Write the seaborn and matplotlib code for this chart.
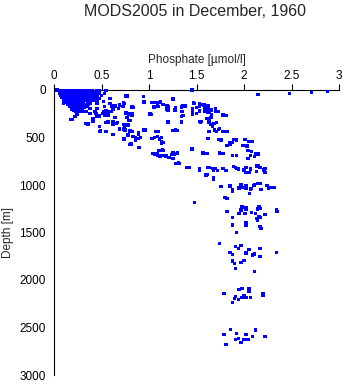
import matplotlib
matplotlib.use("Agg")
import matplotlib.pyplot as plt
import seaborn as sns
import pandas as pd

# Phosphate [umol/l] and depth [m] of each station sample
phosphate = [
    # surface layer, dense
    0.03, 0.06, 0.08, 0.10, 0.12, 0.14, 0.16, 0.18, 0.20, 0.22, 0.24, 0.26, 0.28, 0.30, 0.33, 0.36, 0.40, 0.45, 0.48, 0.55,
    0.06, 0.08, 0.10, 0.12, 0.14, 0.16, 0.18, 0.20, 0.22, 0.24, 0.26, 0.28, 0.30, 0.32, 0.35, 0.38, 0.41, 0.44, 0.48, 0.53,
    0.07, 0.09, 0.11, 0.13, 0.15, 0.17, 0.19, 0.21, 0.23, 0.25, 0.27, 0.29, 0.31, 0.34, 0.37, 0.40, 0.43, 0.46, 0.50,
    0.08, 0.10, 0.12, 0.14, 0.16, 0.18, 0.20, 0.22, 0.24, 0.26, 0.28, 0.30, 0.33, 0.36, 0.39, 0.42, 0.45, 0.48,
    0.10, 0.12, 0.15, 0.17, 0.19, 0.21, 0.23, 0.25, 0.27, 0.29, 0.31, 0.34, 0.38, 0.41, 0.45,
    0.12, 0.16, 0.19, 0.22, 0.24, 0.27, 0.31, 0.38, 0.45, 0.52,
    0.07, 0.09, 0.11, 0.13, 0.15, 0.17, 0.19, 0.21, 0.23, 0.25, 0.27, 0.29, 0.31, 0.33, 0.35, 0.37,
    0.09, 0.12, 0.15, 0.18, 0.21, 0.24, 0.27, 0.30, 0.34, 0.39, 0.43,
    0.14, 0.18, 0.21, 0.23, 0.25, 0.28, 0.30, 0.33, 0.36,
    0.17, 0.20, 0.22, 0.25, 0.27, 0.29, 0.32, 0.35,
    0.19, 0.21, 0.23, 0.26, 0.28, 0.30,
    # upper 500 m
    0.19, 0.22, 0.24, 0.22, 0.31, 0.24, 0.19, 0.31, 0.38, 0.38, 0.45, 0.45, 0.52, 0.48, 0.41, 0.48, 0.53, 0.33, 0.24, 0.10,
    0.59, 0.73, 0.73, 0.76, 0.68, 0.62, 0.62, 0.57, 0.52, 0.53, 0.48, 0.44, 0.41, 0.33, 0.36, 0.41, 0.48, 0.49, 0.57, 0.62,
    0.62, 0.67, 0.69, 0.74, 0.78, 0.80, 0.82, 0.80, 0.62, 0.74, 0.80, 0.86, 0.89, 0.90, 0.18, 0.27, 0.34, 0.38, 0.43, 0.45,
    0.48, 0.51, 0.55, 0.57, 0.60, 0.61, 0.64, 0.66, 0.67, 0.69, 0.73, 0.74, 0.78, 0.83, 0.86, 0.89, 0.96, 0.80, 0.76, 0.74,
    0.64, 0.53, 0.59, 0.69, 0.77, 0.74, 0.73, 0.83, 0.76, 0.79, 0.82, 0.94, 0.94, 1.02, 1.10, 1.12, 1.15, 1.19, 1.19, 1.26,
    1.28, 1.30, 0.55, 0.54, 0.48,
    # mid-depth band
    1.45, 0.94, 0.76, 1.05, 1.12, 1.10, 0.95, 1.25, 1.05, 0.74, 0.72, 0.82, 1.20, 1.28, 1.34, 1.36, 1.47, 1.55, 1.50, 1.53,
    1.46, 1.61, 1.63, 1.66, 1.61, 1.69, 1.73, 1.73, 1.68, 1.54, 1.34, 1.34, 1.20, 1.01, 0.82, 0.76, 0.77, 0.79, 0.77, 0.73,
    0.69, 0.75, 0.82, 0.89, 0.94, 0.91, 0.86, 0.73, 0.81, 0.89, 1.06, 1.10, 1.13, 1.15, 1.28, 1.45, 1.60, 1.06, 1.11, 1.11,
    1.16, 1.28, 1.30, 1.31,
    1.46, 2.15, 2.48, 2.71, 2.88, 1.26, 1.03, 1.06, 1.09, 1.09, 1.20, 1.20, 1.27, 1.34, 1.38, 1.48, 1.53, 1.53, 1.58, 1.62,
    1.50, 1.59, 1.62, 1.66, 1.70, 1.70, 1.59, 1.62, 1.46, 1.46, 1.50, 1.35, 1.36, 1.01, 1.78, 1.81, 1.65, 1.63, 1.63, 1.53,
    1.55, 1.71, 1.20, 1.34, 1.65, 1.67, 1.74, 1.78, 1.82, 1.71, 1.69, 1.63, 1.07, 1.25, 1.03, 1.09, 1.11, 1.13, 1.13, 1.62,
    1.73, 1.89, 1.85, 1.82, 1.99, 2.01, 2.05, 1.46, 1.10, 1.14, 1.04, 1.09, 1.14, 1.21, 1.25, 1.24, 1.28, 1.40, 1.57, 1.74,
    1.88, 2.04, 2.04, 2.07, 2.12, 2.13, 2.17, 2.21, 2.22,
    1.46, 1.61, 1.78, 1.92, 2.11, 2.15, 2.08, 2.03, 1.86, 1.88, 1.76, 1.92, 2.09, 1.25, 1.32, 1.42, 1.53, 1.62, 1.61, 1.68,
    1.72, 1.81, 1.92, 1.94, 2.02, 2.07, 2.06, 2.15, 1.68, 1.09, 1.15, 1.11, 1.06, 1.15, 1.18, 1.29, 1.27, 1.12,
    1.68, 1.60, 1.63, 1.53, 1.67, 1.70, 1.78, 1.89, 1.91, 2.00, 2.02, 2.13, 2.22,
    # 1000-1500 m
    1.76, 1.85, 1.88, 1.97, 1.95, 2.02, 2.02, 2.06, 2.08, 2.11, 2.17, 2.18, 2.24, 2.26, 2.32, 1.48, 1.82, 1.82, 1.98, 1.97,
    1.95, 2.02, 2.01, 2.08, 2.12, 2.14, 2.17, 2.17, 2.22, 2.35, 2.14, 1.88, 1.88, 2.02, 2.18, 2.07, 2.11,
    1.86, 1.88, 1.98, 2.10, 2.15, 2.29, 1.80, 1.98, 2.02, 2.16, 2.34, 2.16, 2.13, 2.02, 2.17,
    # 1500-2000 m
    1.74, 1.92, 1.91, 1.97, 1.94, 2.17, 1.85, 1.88, 2.05, 2.02, 2.02, 2.11, 2.09, 2.17, 2.34, 1.88, 1.90, 1.97, 2.00, 1.91,
    2.11,
    # 2000-2300 m
    1.79, 2.20, 2.20, 1.95, 1.98, 2.05, 2.05, 2.00, 1.91, 1.98, 2.02, 2.07, 1.90, 1.94, 1.88,
    # 2500-2700 m
    1.86, 2.12, 1.79, 1.92, 2.02, 2.09, 2.22, 1.94, 1.91, 2.00, 2.04, 1.97, 1.81,
]
depth = [
    # surface layer, dense
    0, 10, 5, 12, 8, 15, 10, 6, 12, 9, 14, 8, 11, 7, 13, 10, 8, 12, 5, 7,
    30, 35, 28, 33, 38, 30, 36, 32, 29, 34, 37, 31, 35, 30, 33, 36, 35, 30, 35, 35,
    55, 60, 52, 58, 62, 55, 60, 57, 54, 61, 58, 56, 60, 55, 59, 62, 57, 60, 58,
    80, 85, 78, 88, 82, 86, 80, 84, 88, 82, 86, 80, 85, 88, 82, 86, 88, 88,
    105, 110, 102, 108, 112, 104, 110, 106, 112, 108, 104, 110, 106, 112, 108,
    125, 130, 122, 128, 132, 126, 130, 128, 125, 123,
    20, 22, 18, 24, 20, 45, 22, 44, 20, 46, 22, 45, 20, 46, 22, 45,
    70, 72, 68, 95, 70, 96, 72, 95, 70, 96, 72,
    150, 155, 148, 160, 152, 158, 150, 156, 148,
    175, 180, 170, 185, 178, 172, 182, 176,
    205, 215, 225, 210, 220, 200,
    # upper 500 m
    309, 281, 250, 210, 228, 245, 193, 175, 193, 144, 140, 193, 123, 88, 35, 35, 35, 88, 158, 140,
    88, 134, 144, 70, 193, 175, 203, 228, 228, 263, 281, 245, 298, 351, 358, 326, 386, 432, 334, 334,
    365, 344, 414, 368, 368, 319, 263, 245, 467, 516, 572, 502, 449, 607, 309, 228, 228, 245, 228, 281,
    270, 245, 221, 263, 228, 168, 291, 351, 340, 404, 411, 425, 474, 491, 526, 509, 421, 432, 372, 386,
    168, 175, 140, 160, 63, 140, 168, 182, 242, 256, 253, 70, 130, 256, 439, 129, 153, 168, 204, 95,
    186, 425, 439, 344, 439,
    # mid-depth band
    0, 70, 66, 133, 129, 172, 129, 95, 179, 144, 172, 179, 179, 211, 179, 168, 137, 151, 186, 221,
    256, 168, 221, 256, 298, 351, 228, 414, 355, 334, 281, 334, 337, 256, 256, 242, 288, 319, 368, 361,
    414, 421, 439, 467, 421, 502, 502, 516, 568, 604, 502, 439, 502, 551, 421, 621, 667, 674, 635, 695,
    691, 670, 663, 768,
    3, 46, 35, 25, 14, 91, 133, 133, 133, 168, 182, 217, 211, 182, 168, 140, 140, 168, 158, 168,
    182, 196, 196, 211, 200, 221, 228, 239, 200, 239, 246, 228, 267, 249, 263, 270, 291, 302, 337, 333,
    333, 344, 333, 333, 361, 379, 404, 439, 439, 439, 421, 439, 439, 428, 509, 491, 516, 544, 561, 509,
    519, 519, 554, 582, 586, 519, 544, 621, 635, 628, 667, 688, 688, 712, 663, 681, 772, 814, 663, 663,
    688, 639, 723, 688, 667, 800, 814, 842, 867,
    621, 667, 667, 691, 702, 674, 646, 590, 575, 551, 526, 526, 544, 719, 772, 814, 849, 814, 891, 846,
    846, 846, 825, 832, 870, 832, 870, 797, 926, 667, 635, 635, 677, 554, 695, 667, 681, 695,
    937, 895, 814, 825, 825, 825, 825, 807, 818, 842, 818, 860, 825,
    # 1000-1500 m
    1014, 1011, 1063, 997, 1032, 1007, 1035, 1088, 1035, 1007, 982, 1045, 1003, 1032, 1024, 1182, 1144, 1277, 1235, 1263,
    1298, 1256, 1298, 1288, 1298, 1253, 1245, 1340, 1309, 1277, 1372, 1344, 1421, 1421, 1456, 1042, 993,
    1017, 1053, 1025, 1003, 986, 1024, 1130, 1225, 1242, 1232, 1260, 1330, 1354, 1400, 1435,
    # 1500-2000 m
    1614, 1498, 1646, 1635, 1667, 1667, 1709, 1730, 1677, 1709, 1720, 1727, 1737, 1751, 1709, 1800, 1825, 1818, 1793, 1877,
    1909,
    # 2000-2300 m
    2141, 2141, 2160, 2099, 2088, 2088, 2120, 2162, 2172, 2183, 2183, 2186, 2197, 2204, 2236,
    # 2500-2700 m
    2520, 2527, 2572, 2562, 2572, 2594, 2594, 2615, 2625, 2625, 2628, 2660, 2677,
]

x_ticks = [0, 0.5, 1, 1.5, 2, 2.5, 3]
x_tick_labels = ["0", "0.5", "1", "1.5", "2", "2.5", "3"]
y_ticks = [0, 500, 1000, 1500, 2000, 2500, 3000]
y_tick_labels = ["0", "500", "1000", "1500", "2000", "2500", "3000"]

df = pd.DataFrame({"Phosphate": phosphate, "Depth": depth})

sns.set_style("white")
plt.rcParams["font.family"] = ["Liberation Sans", "DejaVu Sans"]

fig = plt.figure(figsize=(3.45, 3.84), dpi=100)
ax = fig.add_axes([54 / 345, 1 - 375 / 384, 285 / 345, 285 / 384])

sns.scatterplot(data=df, x="Phosphate", y="Depth", ax=ax, marker="s",
                s=6.5, color="#0000ff", linewidth=0, edgecolor="none",
                clip_on=False, zorder=3)

ax.set_xlim(0, 3)
ax.set_ylim(3000, 0)
ax.set_xticks(x_ticks)
ax.set_xticklabels(x_tick_labels)
ax.set_yticks(y_ticks)
ax.set_yticklabels(y_tick_labels)

ax.xaxis.tick_top()
ax.xaxis.set_label_position("top")
ax.tick_params(axis="both", direction="out", length=4, width=0.8,
               colors="black", labelsize=8.5, pad=2)
ax.set_xlabel("Phosphate [\u00b5mol/l]", fontsize=8.5, labelpad=5)
ax.set_ylabel("Depth [m]", fontsize=8.5, labelpad=4)

for side in ["right", "bottom"]:
    ax.spines[side].set_visible(False)
for side in ["left", "top"]:
    ax.spines[side].set_color("black")
    ax.spines[side].set_linewidth(0.8)

fig.text(195 / 345, 1 - 11 / 384, "MODS2005 in December, 1960",
         ha="center", va="center", fontsize=11.5)

fig.savefig("out.png", dpi=100)
